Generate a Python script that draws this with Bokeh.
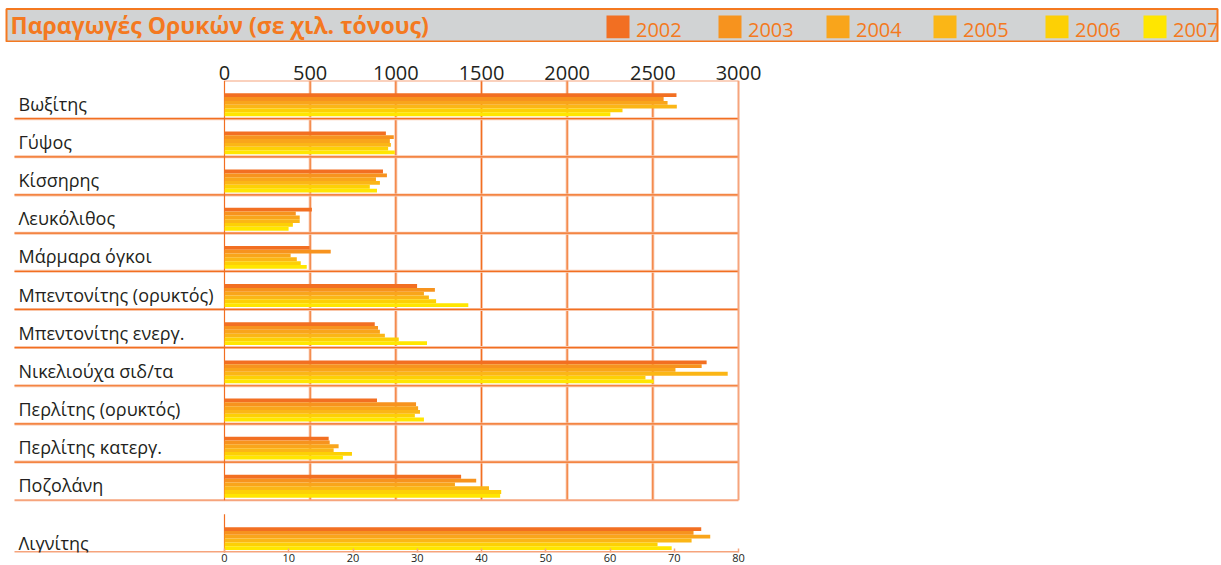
from bokeh.plotting import figure
from bokeh.models import Range1d, LinearAxis, FixedTicker
from bokeh.layouts import column
from bokeh.embed import file_html
from bokeh.resources import INLINE
from bokeh.core.properties import value

# ---------------- data ----------------
title_text = "Παραγωγές Ορυκών (σε χιλ. τόνους)"
years = ["2002", "2003", "2004", "2005", "2006", "2007"]
categories = ["Βωξίτης", "Γύψος", "Κίσσηρης", "Λευκόλιθος", "Μάρμαρα όγκοι",
              "Μπεντονίτης (ορυκτός)", "Μπεντονίτης ενεργ.", "Νικελιούχα σιδ/τα",
              "Περλίτης (ορυκτός)", "Περλίτης κατεργ.", "Ποζολάνη"]
v2002 = [2638, 942, 925, 510, 497, 1124, 877, 2814, 890, 608, 1381]
v2003 = [2563, 988, 948, 416, 620, 1228, 896, 2785, 1118, 614, 1469]
v2004 = [2586, 965, 884, 439, 386, 1164, 907, 2632, 1130, 666, 1345]
v2005 = [2640, 971, 907, 439, 422, 1193, 936, 2937, 1141, 637, 1544]
v2006 = [2323, 955, 848, 399, 445, 1235, 1017, 2457, 1111, 744, 1615]
v2007 = [2252, 994, 890, 374, 480, 1423, 1182, 2505, 1164, 691, 1609]
lignite_label = "Λιγνίτης"
lignite_values = [74.2, 73.0, 75.6, 72.7, 67.4, 69.6]
main_ticks = [0, 500, 1000, 1500, 2000, 2500, 3000]
lignite_ticks = [0, 10, 20, 30, 40, 50, 60, 70, 80]

series = [v2002, v2003, v2004, v2005, v2006, v2007]
colors = ["#f26f22", "#f7931e", "#f9a51b", "#fbb616", "#fdd005", "#ffe600"]

# ---------------- style / layout ----------------
W = 1220
FONT = "Open Sans"
DARK = "#f26f21"
LIGHT = "#f6a47c"
HALO = "#f9c6aa"
ORANGE_TXT = "#f47920"
TXT = "#231f20"

# ---------------- title bar ----------------
TH = 42
t = figure(width=W, height=TH, x_range=Range1d(0, W), y_range=Range1d(0, TH),
           output_backend="svg", toolbar_location=None,
           x_axis_location=None, y_axis_location=None, min_border=0,
           outline_line_color=None)
t.grid.visible = False
t.quad(left=[6], right=[1217], bottom=[1], top=[33.5], fill_color="#d1d3d4",
       line_color=ORANGE_TXT, line_width=2)
t.text(x=[10], y=[17.5], text=[title_text], text_font=value(FONT), text_font_style="bold",
       text_font_size="23px", text_color=ORANGE_TXT, text_baseline="middle")
legend_x = [606, 718, 826, 933, 1045, 1143]
t.quad(left=legend_x, right=[x + 23 for x in legend_x], bottom=4.3, top=27,
       fill_color=colors, line_color=None)
t.text(x=[x + 29.5 for x in legend_x], y=12.8, text=years, text_font=value(FONT),
       text_font_size="20px", text_color=ORANGE_TXT, text_baseline="middle")

# ---------------- main chart ----------------
ppu = 514 / 3000.0          # pixels per thousand-tonne unit
zero_px = 224
xmin = -zero_px / ppu
xmax = (W - zero_px) / ppu
sep_left = (14 - zero_px) / ppu
lab_x = (18 - zero_px) / ppu
n = len(categories)
L0 = n + 0.37  # lignite row start

p = figure(width=W, height=522, x_range=Range1d(xmin, xmax), y_range=Range1d(L0 + 1.0, 0),
           output_backend="svg", toolbar_location=None,
           x_axis_location=None, y_axis_location=None,
           min_border_left=0, min_border_right=0,
           min_border_top=38, min_border_bottom=0,
           outline_line_color=None, background_fill_color="white", border_fill_color="white")
p.grid.visible = False
k = 80 / 3000.0
p.extra_x_ranges = {"lig": Range1d(xmin * k, xmax * k)}

top_ax = LinearAxis(ticker=FixedTicker(ticks=main_ticks), axis_line_color=None,
                    major_tick_line_color=None, minor_tick_line_color=None,
                    major_tick_in=0, major_tick_out=0, major_label_standoff=1,
                    major_label_text_font=FONT, major_label_text_font_size="20px",
                    major_label_text_color=TXT)
p.add_layout(top_ax, "above")

bot_ax = LinearAxis(x_range_name="lig", ticker=FixedTicker(ticks=lignite_ticks),
                    axis_line_color=None,
                    major_tick_line_color=LIGHT, major_tick_line_width=1.5,
                    major_tick_in=4, major_tick_out=0,
                    minor_tick_line_color=None, major_label_standoff=1,
                    major_label_text_font=FONT, major_label_text_font_size="11px",
                    major_label_text_color=TXT)
p.add_layout(bot_ax, "below")

# grid lines (drawn under bars)
inner = main_ticks[1:-1]
p.segment(x0=inner, x1=inner, y0=0, y1=n, line_color=HALO, line_width=3)
p.segment(x0=inner, x1=inner, y0=0, y1=n, line_color=DARK, line_width=1)
seps = list(range(1, n))
p.segment(x0=sep_left, x1=3000, y0=seps, y1=seps, line_color=HALO, line_width=3)
p.segment(x0=sep_left, x1=3000, y0=seps, y1=seps, line_color=DARK, line_width=1.2)
p.segment(x0=[sep_left], x1=[3000], y0=[n], y1=[n], line_color=LIGHT, line_width=2)
p.segment(x0=[0], x1=[3000], y0=[0], y1=[0], line_color=LIGHT, line_width=2)
p.segment(x0=[3000], x1=[3000], y0=[0], y1=[n], line_color=LIGHT, line_width=2)
p.segment(x0=[0], x1=[0], y0=[0], y1=[n], line_color=DARK, line_width=1.2)
# lignite frame
p.segment(x0=[sep_left], x1=[3000], y0=[L0 + 0.985], y1=[L0 + 0.985], line_color=LIGHT,
          line_width=2)
p.segment(x0=[0], x1=[0], y0=[L0], y1=[L0 + 1], line_color=DARK, line_width=1.2,
          x_range_name="lig")

# bars
bh = 0.1
off = 0.335
for j, (vals, c) in enumerate(zip(series, colors)):
    ys = [i + off + bh * j + bh / 2 for i in range(n)]
    p.hbar(y=ys, left=0, right=vals, height=bh, fill_color=c, line_color=None)
    p.hbar(y=[L0 + off + bh * j + bh / 2], left=0, right=[lignite_values[j]], height=bh,
           fill_color=c, line_color=None, x_range_name="lig")

# category labels
p.text(x=lab_x, y=[i + 0.61 for i in range(n)], text=categories, text_font=value(FONT),
       text_font_size="18px", text_color=TXT, text_baseline="middle")
p.text(x=[lab_x], y=[L0 + 0.76], text=[lignite_label], text_font=value(FONT),
       text_font_size="18px", text_color=TXT, text_baseline="middle")

layout = column(t, p, spacing=0)
open("out.html", "w").write(file_html(layout, INLINE))
